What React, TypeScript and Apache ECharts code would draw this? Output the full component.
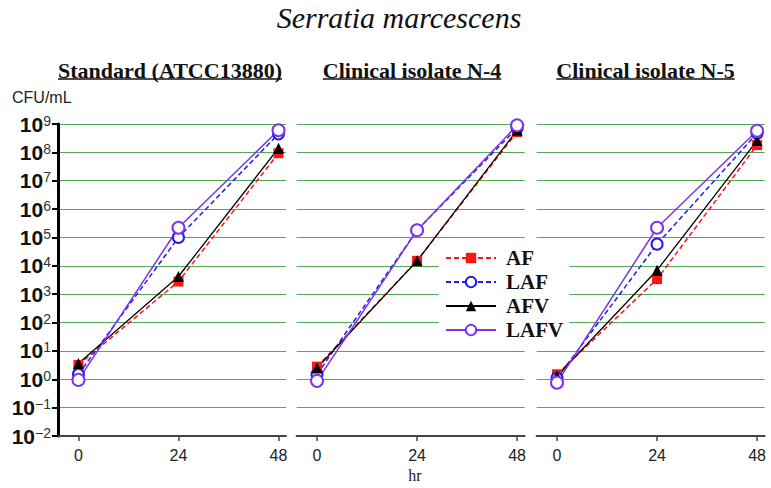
import React, { useEffect, useRef } from 'react';
import * as echarts from 'echarts';

// ---- data ----
const hours = [0, 24, 48];
const seriesNames = ['AF', 'LAF', 'AFV', 'LAFV'];
const panelTitles = ['Standard (ATCC13880)', 'Clinical isolate N-4', 'Clinical isolate N-5'];
const mainTitle = 'Serratia marcescens';
const yUnit = 'CFU/mL';
const xUnit = 'hr';

// CFU/mL at 0, 24, 48 hr
const standardAF = [3.2, 2.8e3, 9.3e7];
const standardLAF = [1.5, 1.0e5, 4.5e8];
const standardAFV = [3.6, 4.2e3, 1.4e8];
const standardLAFV = [0.95, 2.2e5, 6.0e8];

const n4AF = [2.8, 1.5e4, 5.2e8];
const n4LAF = [1.5, 1.8e5, 7.2e8];
const n4AFV = [2.5, 1.5e4, 6.0e8];
const n4LAFV = [0.88, 1.8e5, 9.0e8];

const n5AF = [1.5, 3.4e3, 1.8e8];
const n5LAF = [1.1, 5.8e4, 4.7e8];
const n5AFV = [1.3, 7.0e3, 2.6e8];
const n5LAFV = [0.76, 2.2e5, 5.8e8];

const panels = [
  [standardAF, standardLAF, standardAFV, standardLAFV],
  [n4AF, n4LAF, n4AFV, n4LAFV],
  [n5AF, n5LAF, n5AFV, n5LAFV],
];

// ---- styles ----
const styles: Record<string, any> = {
  AF: { color: '#FF1414', symbol: 'rect', symbolSize: 10, type: [5, 3], width: 1.5 },
  LAF: { color: '#1E1EE6', symbol: 'emptyCircle', symbolSize: 11, type: [5, 3], width: 1.5 },
  AFV: { color: '#000000', symbol: 'triangle', symbolSize: 11, type: 'solid', width: 1.3 },
  LAFV: { color: '#8030EE', symbol: 'emptyCircle', symbolSize: 12, type: 'solid', width: 1.5 },
};

const gridLefts = [58, 296.6, 536.6];
const gridTop = 124;
const gridWidth = 228;
const gridHeight = 312;
const panelCenters = [170, 412, 645.5];

function measure(text: string, font: string) {
  const ctx = document.createElement('canvas').getContext('2d');
  if (!ctx) return text.length * 11;
  ctx.font = font;
  return ctx.measureText(text).width;
}

function buildOption() {
  const grids = gridLefts.map((left) => ({ left, top: gridTop, width: gridWidth, height: gridHeight }));
  const xAxes = gridLefts.map((_, i) => ({
    type: 'value',
    gridIndex: i,
    min: -4.9,
    max: 49.8,
    axisLine: { show: true, onZero: false, lineStyle: { color: '#444', width: 2 } },
    axisTick: { show: true, length: 5, customValues: hours, lineStyle: { color: '#444', width: 1.5 } },
    axisLabel: {
      show: true,
      customValues: hours,
      margin: 11,
      fontSize: 16,
      color: '#222',
      fontFamily: 'Liberation Sans, Arial, sans-serif',
    },
    splitLine: { show: false },
  }));
  const yAxes = gridLefts.map((_, i) => ({
    type: 'log',
    logBase: 10,
    gridIndex: i,
    min: 0.01,
    max: 1e9,
    interval: 1,
    axisLine: { show: i === 0, onZero: false, lineStyle: { color: '#000', width: 3 } },
    axisTick: { show: i === 0, length: 6, lineStyle: { color: '#000', width: 2 } },
    axisLabel: {
      show: i === 0,
      margin: 7,
      formatter: (v: number) => {
        const e = Math.round(Math.log10(v));
        return `{b|10}{s|${e < 0 ? '\u2212' + -e : e}}`;
      },
      rich: {
        b: { fontSize: 21, fontWeight: 'bold', color: '#111', fontFamily: 'Liberation Sans, Arial, sans-serif' },
        s: { fontSize: 14, color: '#333', verticalAlign: 'top', fontFamily: 'Liberation Sans, Arial, sans-serif' },
      },
    },
    splitLine: { show: true, lineStyle: { color: '#55A855', width: 1.2 } },
  }));

  const series: any[] = [];
  panels.forEach((panel, pi) => {
    panel.forEach((vals, si) => {
      const name = seriesNames[si];
      const st = styles[name];
      series.push({
        type: 'line',
        name,
        xAxisIndex: pi,
        yAxisIndex: pi,
        data: hours.map((h, k) => [h, vals[k]]),
        symbol: st.symbol,
        symbolSize: st.symbolSize,
        showAllSymbol: true,
        lineStyle: { color: st.color, width: st.width, type: st.type },
        itemStyle: { color: st.color, borderWidth: 1.5 },
        emphasis: { disabled: true },
      });
    });
  });

  const titleFont = "bold 22px 'Liberation Serif'";
  const graphics: any[] = [
    {
      type: 'text',
      x: 399,
      y: 17,
      style: {
        text: mainTitle,
        font: "italic 30px 'Liberation Serif'",
        fill: '#111',
        textAlign: 'center',
        textVerticalAlign: 'middle',
      },
    },
    {
      type: 'text',
      x: 12,
      y: 97.5,
      style: {
        text: yUnit,
        font: "16px 'Liberation Sans'",
        fill: '#222',
        textAlign: 'left',
        textVerticalAlign: 'middle',
      },
    },
    {
      type: 'text',
      x: 415,
      y: 475,
      style: {
        text: xUnit,
        font: "16px 'Liberation Serif'",
        fill: '#222',
        textAlign: 'center',
        textVerticalAlign: 'middle',
      },
    },
  ];
  panelTitles.forEach((t, i) => {
    const w = measure(t, titleFont);
    const cx = panelCenters[i];
    graphics.push({
      type: 'text',
      x: cx,
      y: 70,
      style: { text: t, font: titleFont, fill: '#111', textAlign: 'center', textVerticalAlign: 'middle' },
    });
    graphics.push({
      type: 'line',
      shape: { x1: cx - w / 2, y1: 79, x2: cx + w / 2, y2: 79 },
      style: { stroke: '#111', lineWidth: 1.5 },
    });
  });

  return {
    animation: false,
    backgroundColor: '#fff',
    grid: grids,
    xAxis: xAxes,
    yAxis: yAxes,
    legend: {
      data: seriesNames,
      orient: 'vertical',
      left: 439,
      top: 245.5,
      padding: [2, 6, 2, 6],
      backgroundColor: '#fff',
      itemWidth: 50,
      itemHeight: 13,
      itemGap: 3,
      selectedMode: false,
      textStyle: {
        fontFamily: 'Liberation Serif',
        fontWeight: 'bold',
        fontSize: 21,
        color: '#111',
        padding: [0, 0, 0, 5],
      },
    },
    graphic: graphics,
    series,
  };
}

export default function App() {
  const ref = useRef<HTMLDivElement>(null);
  useEffect(() => {
    if (!ref.current) return;
    const chart = echarts.init(ref.current, null, { renderer: 'svg' });
    chart.setOption(buildOption() as any);
    return () => chart.dispose();
  }, []);
  return <div ref={ref} style={{ position: 'fixed', left: 0, top: 0, width: 771, height: 488 }} />;
}
